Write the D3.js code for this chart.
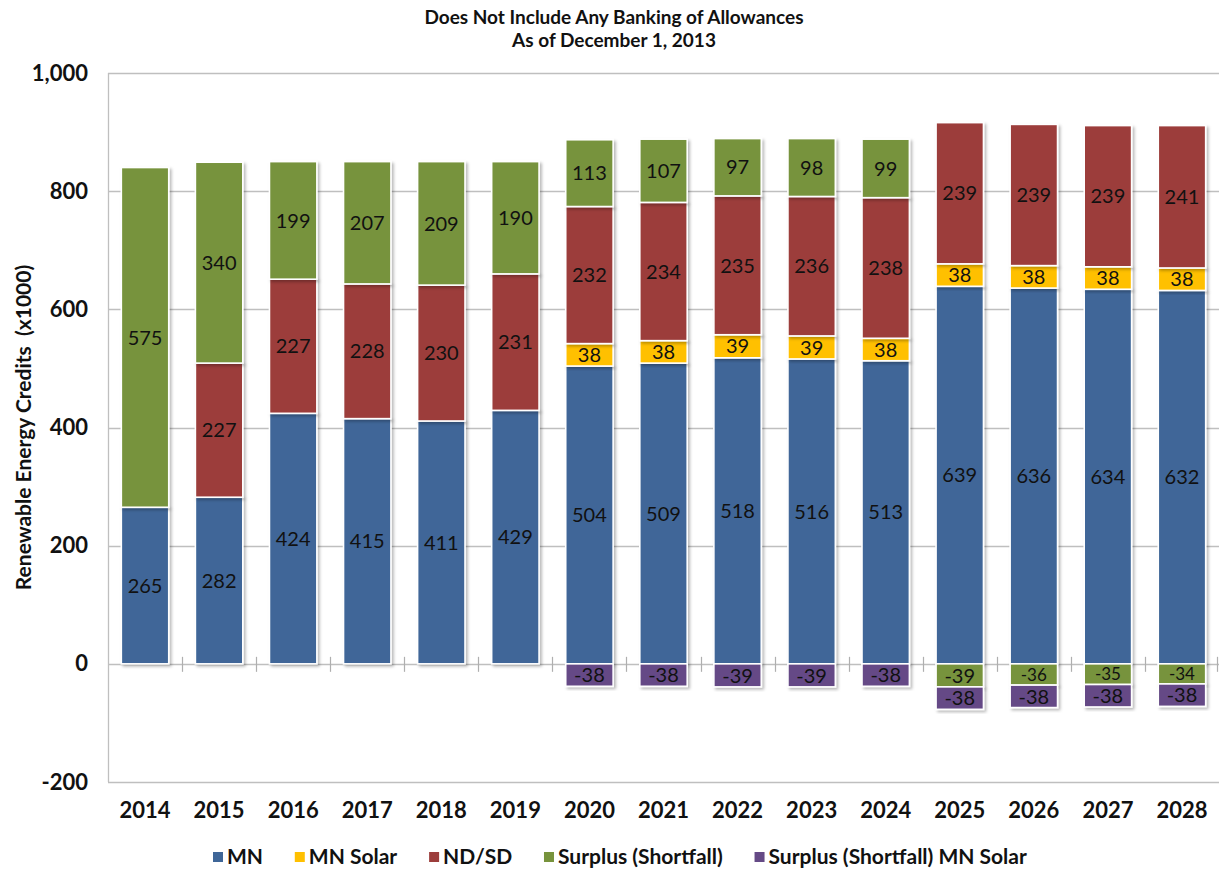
<!DOCTYPE html>
<html>
<head>
<meta charset="utf-8">
<script src="https://cdnjs.cloudflare.com/ajax/libs/d3/7.8.5/d3.min.js"></script>
<style>
  html, body { margin: 0; padding: 0; background: #fff; }
  svg { display: block; font-family: Lato, "Open Sans", sans-serif; }
</style>
</head>
<body>
<svg id="chart" width="1224" height="875"></svg>
<script>
// Renewable energy credit balance by year (thousands)
const years = ["2014","2015","2016","2017","2018","2019","2020","2021","2022","2023","2024","2025","2026","2027","2028"];
const mn           = [265, 282, 424, 415, 411, 429, 504, 509, 518, 516, 513, 639, 636, 634, 632];
const mnSolar      = [0, 0, 0, 0, 0, 0, 38, 38, 39, 39, 38, 38, 38, 38, 38];
const ndsd         = [0, 227, 227, 228, 230, 231, 232, 234, 235, 236, 238, 239, 239, 239, 241];
const surplus      = [575, 340, 199, 207, 209, 190, 113, 107, 97, 98, 99, -39, -36, -35, -34];
const surplusSolar = [0, 0, 0, 0, 0, 0, -38, -38, -39, -39, -38, -38, -38, -38, -38];
const yTicks = [-200, 0, 200, 400, 600, 800, 1000];

const seriesNames = ["MN", "MN Solar", "ND/SD", "Surplus (Shortfall)", "Surplus (Shortfall) MN Solar"];
const seriesValues = [mn, mnSolar, ndsd, surplus, surplusSolar];
const colors = ["#3F6698", "#FFC000", "#9C3D3B", "#77933C", "#654A86"];

const rows = years.map((y, i) => {
  const r = { year: y };
  seriesNames.forEach((s, k) => r[s] = seriesValues[k][i]);
  return r;
});

const svg = d3.select("#chart");
const margin = { left: 108, right: 5, top: 73, bottom: 93 };
const W = 1224, H = 875;
const FONT = "Lato, 'Open Sans', sans-serif";

const x = d3.scaleBand().domain(years).range([margin.left, W - margin.right]).paddingInner(0.36).paddingOuter(0.18);
const y = d3.scaleLinear().domain([-200, 1000]).range([H - margin.bottom, margin.top]);

// soft shadow under the bars
const defs = svg.append("defs");
const f = defs.append("filter").attr("id", "shadow").attr("x", "-20%").attr("y", "-20%").attr("width", "140%").attr("height", "140%");
f.append("feDropShadow").attr("dx", 2).attr("dy", 2).attr("stdDeviation", 1.8).attr("flood-color", "#000").attr("flood-opacity", 0.28);

// title
const title = svg.append("text").attr("text-anchor", "middle")
  .attr("font-weight", "bold").attr("font-size", 19).attr("fill", "#111");
title.append("tspan").attr("x", 614).attr("y", 24).text("Does Not Include Any Banking of Allowances");
title.append("tspan").attr("x", 614).attr("y", 47).text("As of December 1, 2013");

// gridlines
const x0 = margin.left, x1 = W - margin.right;
svg.append("g").selectAll("line").data(yTicks).join("line")
  .attr("x1", x0).attr("x2", x1)
  .attr("y1", d => Math.round(y(d)) + 0.5).attr("y2", d => Math.round(y(d)) + 0.5)
  .attr("stroke", "#BFBFBF").attr("stroke-width", 1.3);

// left axis line
svg.append("line").attr("x1", x0 + 0.5).attr("x2", x0 + 0.5)
  .attr("y1", y(1000)).attr("y2", y(-200)).attr("stroke", "#BFBFBF").attr("stroke-width", 1.3);

// y-axis labels
const fmt = d3.format(",");
const yAxis = d3.axisLeft(y).tickValues(yTicks).tickFormat(d => fmt(d).replace("\u2212", "-")).tickSize(0).tickPadding(20);
const gy = svg.append("g").attr("transform", `translate(${x0},0)`).call(yAxis);
gy.select(".domain").remove();
gy.selectAll("text").attr("font-size", 22).attr("font-weight", "bold").attr("fill", "#111")
  .attr("font-family", FONT);

// y-axis title
svg.append("text").attr("transform", `translate(31,${(y(1000) + y(-200)) / 2}) rotate(-90)`)
  .attr("text-anchor", "middle").attr("font-size", 21).attr("font-weight", "bold").attr("fill", "#111")
  .attr("xml:space", "preserve")
  .text("Renewable Energy Credits  (x1000)");

// category ticks crossing the zero line
const step = x.step();
const bounds = d3.range(1, years.length).map(i => x(years[i]) - step * x.paddingInner() / 2);
svg.append("g").selectAll("line").data(bounds.concat([x1 - 2])).join("line")
  .attr("x1", d => Math.round(d) + 0.5).attr("x2", d => Math.round(d) + 0.5)
  .attr("y1", y(0) - 7).attr("y2", y(0) + 8)
  .attr("stroke", "#AFAFAF").attr("stroke-width", 1.2);

// x-axis labels
const xAxis = d3.axisBottom(x).tickSize(0).tickPadding(20);
const gx = svg.append("g").attr("transform", `translate(0,${y(-200)})`).call(xAxis);
gx.select(".domain").remove();
gx.selectAll("text").attr("font-size", 22).attr("font-weight", "bold").attr("fill", "#111")
  .attr("font-family", FONT);

// stacked bars
const stack = d3.stack().keys(seriesNames).offset(d3.stackOffsetDiverging);
const stacked = stack(rows);

const layers = svg.append("g").selectAll("g").data(stacked).join("g")
  .attr("fill", (d, i) => colors[i]);

layers.selectAll("rect").data(d => d.filter(p => p[1] !== p[0])).join("rect")
  .attr("x", d => x(d.data.year))
  .attr("width", x.bandwidth())
  .attr("y", d => y(Math.max(d[0], d[1])))
  .attr("height", d => Math.abs(y(d[0]) - y(d[1])))
  .attr("stroke", "#fff").attr("stroke-width", 1.6)
  .attr("filter", "url(#shadow)");

// value labels; slightly smaller type inside very short segments
const labels = svg.append("g");
stacked.forEach(layer => {
  const key = layer.key;
  layer.forEach(p => {
    const v = p.data[key];
    if (v === 0) return;
    const segH = Math.abs(y(p[0]) - y(p[1]));
    labels.append("text")
      .attr("x", x(p.data.year) + x.bandwidth() / 2)
      .attr("y", y((p[0] + p[1]) / 2))
      .attr("dy", "0.36em")
      .attr("text-anchor", "middle")
      .attr("font-size", segH < 22 ? 17 : 20)
      .attr("fill", "#111")
      .text(String(v));
  });
});

// legend
const legend = svg.append("g").attr("font-size", 21).attr("font-weight", "bold").attr("fill", "#111");
const sw = 10, sp = 4;
const items = legend.selectAll("g").data(seriesNames).join("g");
items.append("rect").attr("width", sw).attr("height", sw).attr("y", -sw / 2)
  .attr("fill", (d, i) => colors[i]);
items.append("text").attr("x", sw + sp).attr("dy", "0.35em").text(d => d);
const widths = [];
items.each(function () { widths.push(this.getBBox().width); });
const legLeft = 213, legRight = 1027;
const gap = (legRight - legLeft - d3.sum(widths)) / (widths.length - 1);
let cx = legLeft;
items.attr("transform", (d, i) => {
  const t = `translate(${cx},857)`;
  cx += widths[i] + gap;
  return t;
});
</script>
</body>
</html>
